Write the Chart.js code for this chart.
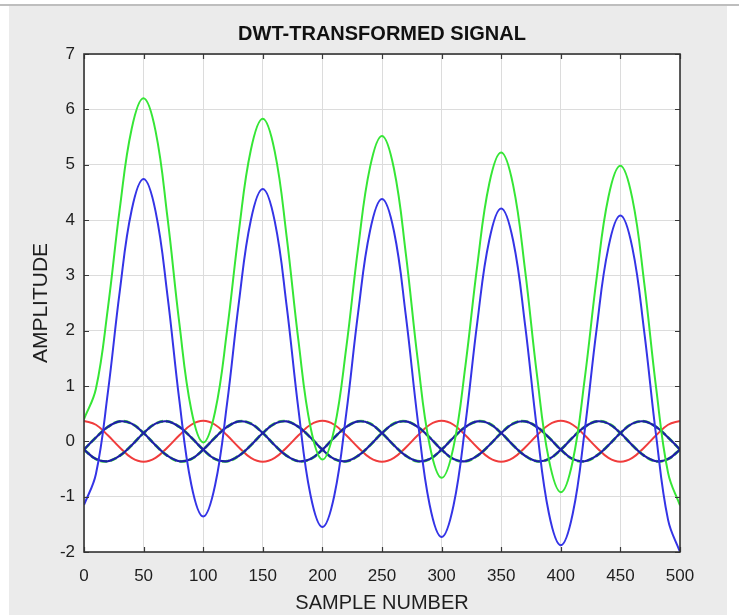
<!DOCTYPE html>
<html>
<head>
<meta charset="utf-8">
<script src="https://cdn.jsdelivr.net/npm/chart.js@4.4.1/dist/chart.umd.min.js"></script>
<style>
  html, body { margin: 0; padding: 0; background: #fff; }
  canvas { display: block; }
</style>
</head>
<body>
<canvas id="chart" width="739" height="615"></canvas>
<script>
// Sample positions (x axis)
const samples = [0, 10, 20, 30, 40, 50, 60, 70, 80, 90,
  100, 110, 120, 130, 140, 150, 160, 170, 180, 190,
  200, 210, 220, 230, 240, 250, 260, 270, 280, 290,
  300, 310, 320, 330, 340, 350, 360, 370, 380, 390,
  400, 410, 420, 430, 440, 450, 460, 470, 480, 490, 500]

// Tick labels
const xTicks = [0, 50, 100, 150, 200, 250, 300, 350, 400, 450, 500]
const yTicks = [-2, -1, 0, 1, 2, 3, 4, 5, 6, 7]

// Series values
const bigGreen = [0.40, 0.95, 2.40, 4.20, 5.65, 6.20, 5.61, 4.05, 2.13, 0.57,
  -0.02, 0.54, 2.00, 3.81, 5.27, 5.83, 5.24, 3.70, 1.80, 0.26,
  -0.33, 0.23, 1.69, 3.50, 4.96, 5.52, 4.93, 3.39, 1.47, -0.07,
  -0.66, -0.10, 1.37, 3.19, 4.66, 5.22, 4.63, 3.10, 1.20, -0.33,
  -0.92, -0.36, 1.12, 2.94, 4.42, 4.98, 4.39, 2.86, 0.96, -0.57, -1.16]

const bigBlue = [-1.15, -0.59, 0.88, 2.71, 4.18, 4.74, 4.16, 2.64, 0.74, -0.78,
  -1.36, -0.79, 0.68, 2.52, 4.00, 4.56, 3.98, 2.45, 0.56, -0.97,
  -1.55, -0.98, 0.50, 2.33, 3.81, 4.38, 3.80, 2.27, 0.38, -1.15,
  -1.73, -1.16, 0.32, 2.16, 3.64, 4.21, 3.63, 2.11, 0.22, -1.30,
  -1.88, -1.31, 0.18, 2.02, 3.51, 4.08, 3.50, 1.98, 0.10, -1.42, -2.00]

const redWave = [0.37, 0.30, 0.11, -0.11, -0.30, -0.37, -0.30, -0.11, 0.11, 0.30,
  0.37, 0.30, 0.11, -0.11, -0.30, -0.37, -0.30, -0.11, 0.11, 0.30,
  0.37, 0.30, 0.11, -0.11, -0.30, -0.37, -0.30, -0.11, 0.11, 0.30,
  0.37, 0.30, 0.11, -0.11, -0.30, -0.37, -0.30, -0.11, 0.11, 0.30,
  0.37, 0.30, 0.11, -0.11, -0.30, -0.37, -0.30, -0.11, 0.11, 0.30, 0.37]

const waveA = [-0.15, -0.32, -0.36, -0.26, -0.07, 0.15, 0.32, 0.36, 0.26, 0.07,
  -0.15, -0.32, -0.36, -0.26, -0.07, 0.15, 0.32, 0.36, 0.26, 0.07,
  -0.15, -0.32, -0.36, -0.26, -0.07, 0.15, 0.32, 0.36, 0.26, 0.07,
  -0.15, -0.32, -0.36, -0.26, -0.07, 0.15, 0.32, 0.36, 0.26, 0.07,
  -0.15, -0.32, -0.36, -0.26, -0.07, 0.15, 0.32, 0.36, 0.26, 0.07, -0.15]

const waveB = [-0.15, 0.07, 0.26, 0.36, 0.32, 0.15, -0.07, -0.26, -0.36, -0.32,
  -0.15, 0.07, 0.26, 0.36, 0.32, 0.15, -0.07, -0.26, -0.36, -0.32,
  -0.15, 0.07, 0.26, 0.36, 0.32, 0.15, -0.07, -0.26, -0.36, -0.32,
  -0.15, 0.07, 0.26, 0.36, 0.32, 0.15, -0.07, -0.26, -0.36, -0.32,
  -0.15, 0.07, 0.26, 0.36, 0.32, 0.15, -0.07, -0.26, -0.36, -0.32, -0.15]

const FONT = "'Liberation Sans', Arial, Helvetica, sans-serif"

function points(values) {
  return samples.map((x, i) => ({ x, y: values[i] }))
}

function line(values, color, width, dash) {
  return {
    data: points(values),
    borderColor: color,
    borderWidth: width,
    borderDash: dash || [],
    pointRadius: 0,
    tension: 0.4,
    fill: false
  }
}

// Page background, plot box and inward tick marks
const framePlugin = {
  id: 'frame',
  beforeDraw(chart) {
    const { ctx, chartArea: a } = chart
    ctx.save()
    ctx.fillStyle = '#ffffff'
    ctx.fillRect(0, 0, chart.width, chart.height)
    ctx.fillStyle = '#ebebeb'
    ctx.fillRect(9, 6, 718, chart.height - 6)
    ctx.strokeStyle = '#a8a8a8'
    ctx.lineWidth = 1.5
    ctx.beginPath()
    ctx.moveTo(0, 5)
    ctx.lineTo(chart.width, 5)
    ctx.stroke()
    ctx.fillStyle = '#ffffff'
    ctx.fillRect(a.left, a.top, a.right - a.left, a.bottom - a.top)
    ctx.restore()
  },
  afterDatasetsDraw(chart) {
    const { ctx, chartArea: a, scales } = chart
    ctx.save()
    ctx.strokeStyle = '#3a3a3a'
    ctx.lineWidth = 1.2
    const len = 5
    ctx.beginPath()
    xTicks.forEach(v => {
      const px = Math.round(scales.x.getPixelForValue(v)) + 0.5
      ctx.moveTo(px, a.bottom); ctx.lineTo(px, a.bottom - len)
      ctx.moveTo(px, a.top); ctx.lineTo(px, a.top + len)
    })
    yTicks.forEach(v => {
      const py = Math.round(scales.y.getPixelForValue(v)) + 0.5
      ctx.moveTo(a.left, py); ctx.lineTo(a.left + len, py)
      ctx.moveTo(a.right, py); ctx.lineTo(a.right - len, py)
    })
    ctx.stroke()
    ctx.lineWidth = 1.6
    ctx.strokeStyle = '#333333'
    ctx.strokeRect(a.left, a.top, a.right - a.left, a.bottom - a.top)
    ctx.restore()
  }
}

const ctx = document.getElementById('chart').getContext('2d')
new Chart(ctx, {
  type: 'line',
  data: {
    datasets: [
      line(bigBlue, '#3434e6', 2),
      line(bigGreen, '#36e636', 2),
      line(waveA, '#1e1ea8', 2.2),
      line(waveB, '#1e1ea8', 2.2),
      line(waveA, '#40dc40', 2.8, [7, 3]),
      line(waveB, '#40dc40', 2.8, [7, 3]),
      line(redWave, '#f03c3c', 2)
    ]
  },
  options: {
    responsive: false,
    animation: false,
    devicePixelRatio: 1,
    layout: { padding: { left: 0, right: 59, top: 0, bottom: 0 } },
    plugins: {
      legend: { display: false },
      tooltip: { enabled: false },
      title: {
        display: true,
        text: 'DWT-TRANSFORMED SIGNAL',
        fullSize: false,
        color: '#111111',
        font: { family: FONT, size: 20, weight: 'bold' },
        padding: { top: 22, bottom: 8 }
      }
    },
    scales: {
      x: {
        type: 'linear',
        min: 0,
        max: 500,
        afterBuildTicks: s => { s.ticks = xTicks.map(v => ({ value: v })) },
        afterFit: s => { s.height = 63 },
        grid: { color: '#dcdcdc', lineWidth: 1, drawTicks: false },
        border: { display: false },
        ticks: {
          color: '#1e1e1e',
          padding: 14,
          maxRotation: 0,
          font: { family: FONT, size: 17 }
        },
        title: {
          display: true,
          text: 'SAMPLE NUMBER',
          color: '#1e1e1e',
          font: { family: FONT, size: 20 },
          padding: { top: 0, bottom: 0 }
        }
      },
      y: {
        min: -2,
        max: 7,
        afterBuildTicks: s => { s.ticks = yTicks.map(v => ({ value: v })) },
        afterFit: s => { s.width = 84 },
        grid: { color: '#dcdcdc', lineWidth: 1, drawTicks: false },
        border: { display: false },
        ticks: {
          color: '#1e1e1e',
          padding: 9,
          font: { family: FONT, size: 17 }
        },
        title: {
          display: true,
          text: 'AMPLITUDE',
          color: '#1e1e1e',
          font: { family: FONT, size: 21 },
          padding: { top: 29, bottom: 0 }
        }
      }
    }
  },
  plugins: [framePlugin]
})
</script>
</body>
</html>
